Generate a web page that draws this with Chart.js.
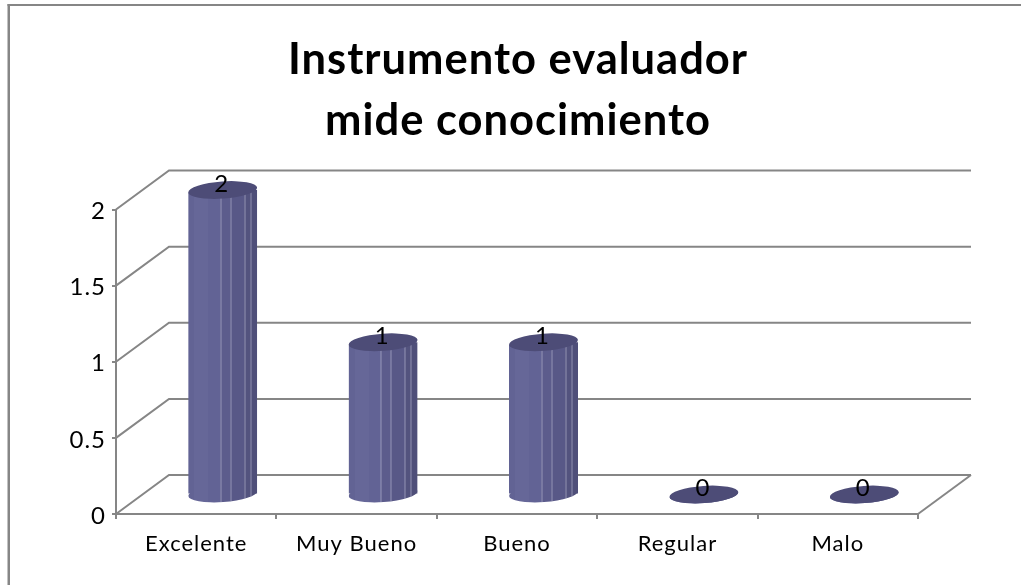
<!DOCTYPE html>
<html><head><meta charset="utf-8">
<style>html,body{margin:0;padding:0;background:#fff}#w{position:relative;width:1021px;height:585px;overflow:hidden}
canvas{display:block}</style>
<script src="https://cdn.jsdelivr.net/npm/chart.js@4/dist/chart.umd.min.js"></script>
</head><body><div id="w"><canvas id="c" width="1021" height="585"></canvas></div>
<script>
const titleLines = ['Instrumento evaluador', 'mide conocimiento'];
const categories = ['Excelente', 'Muy Bueno', 'Bueno', 'Regular', 'Malo'];
const values = [2, 1, 1, 0, 0];
const yTickLabels = ['0', '0.5', '1', '1.5', '2'];

const GRID = '#868686', DEPTH_X = 53, DEPTH_Y = -39, RX = 34.5, RY = 8.6, TILT = -4 * Math.PI / 180;
const STRIPES = [
  [0, '#626394'], [6, '#666798'], [20, '#626395'], [32, '#5c5c8c'], [42, '#585887'],
  [56, '#53537e'], [62, '#4f4f79'], [69, '#4c4c74']
];
const LINES = [32, 42, 56, 62];
const bodyFill = (c) => {
  const s = c.chart.scales.x, w = 69;
  if (!s || !c.chart.chartArea) return '#5c5c8c';
  const cx = s.getPixelForValue(c.dataIndex), l = cx - w / 2;
  const g = c.chart.ctx.createLinearGradient(l, 0, l + w, 0);
  STRIPES.forEach((st, i) => {
    g.addColorStop(st[0] / w, st[1]);
    if (i < STRIPES.length - 1) g.addColorStop(Math.max(0, STRIPES[i + 1][0] / w - 0.0001), st[1]);
  });
  return g;
};
const capPath = (ctx, x, y) => { ctx.beginPath(); ctx.ellipse(x, y, RX, RY, TILT, 0, Math.PI * 2); };

const threeD = {
  id: 'threeD',
  afterLayout(chart) { chart.titleBlock.left += 62; },
  beforeDraw(chart) {
    const { ctx, width, height } = chart;
    ctx.letterSpacing = '1px';
    ctx.save();
    ctx.fillStyle = GRID;
    ctx.fillRect(7.5, 4, width - 7.5, 2);
    ctx.fillRect(7.5, 4, 2.5, height - 4);
    ctx.restore();
  },
  beforeDatasetsDraw(chart) {
    const { ctx, scales: { x, y } } = chart;
    const l = x.left, r = x.right;
    ctx.save();
    ctx.strokeStyle = GRID; ctx.lineWidth = 2;
    y.ticks.forEach(t => {
      const p = y.getPixelForValue(t.value);
      ctx.beginPath();
      ctx.moveTo(l, p); ctx.lineTo(l + DEPTH_X, p + DEPTH_Y); ctx.lineTo(r + DEPTH_X, p + DEPTH_Y);
      ctx.stroke();
    });
    const b = y.getPixelForValue(0);
    ctx.beginPath(); ctx.moveTo(r, b); ctx.lineTo(r + DEPTH_X, b + DEPTH_Y); ctx.stroke();
    ctx.restore();
  },
  beforeDatasetDraw(chart, args) {
    const { ctx } = chart;
    const meta = args.meta;
    ctx.save();
    ctx.translate(DEPTH_X / 2, DEPTH_Y / 2);
    ctx.beginPath();
    meta.data.forEach(el => {
      const h = RX;
      ctx.moveTo(el.x - h, el.y + 2.5); ctx.lineTo(el.x + h, el.y - 2.5);
      ctx.lineTo(el.x + h, el.base + 12); ctx.lineTo(el.x - h, el.base + 12); ctx.closePath();
    });
    ctx.clip();
    meta.data.forEach((el) => {
      capPath(ctx, el.x, el.base);
      ctx.fillStyle = el.options.backgroundColor;
      ctx.fill();
    });
  },
  afterDatasetDraw(chart, args) {
    const { ctx } = chart;
    const meta = args.meta;
    meta.data.forEach(el => {
      if (el.base - el.y < 1) return;
      ctx.strokeStyle = 'rgba(190,190,215,0.6)'; ctx.lineWidth = 1;
      LINES.forEach(o => {
        const px = Math.round(el.x - RX + o) + 0.5, d = px - el.x;
        const end = el.base + d * Math.tan(TILT) + RY * Math.sqrt(Math.max(0, 1 - (d / RX) ** 2));
        ctx.beginPath(); ctx.moveTo(px, el.y - 4); ctx.lineTo(px, end); ctx.stroke();
      });
    });
    ctx.restore();
    ctx.save();
    ctx.translate(DEPTH_X / 2, DEPTH_Y / 2);
    meta.data.forEach((el, i) => {
      capPath(ctx, el.x, el.y);
      ctx.fillStyle = '#4d4c77';
      ctx.fill();
      ctx.fillStyle = '#000';
      ctx.font = '24px Lato';
      ctx.textAlign = 'center'; ctx.textBaseline = 'middle';
      ctx.fillText(String(values[i]), el.x - 1, el.y - 6);
    });
    ctx.restore();
  }
};

new Chart(document.getElementById('c'), {
  type: 'bar',
  plugins: [threeD],
  data: { labels: categories, datasets: [{ data: values, backgroundColor: bodyFill, barPercentage: 69 / 160.4, categoryPercentage: 1, borderWidth: 0 }] },
  options: {
    responsive: false, animation: false,
    layout: { padding: { left: 56, right: 103, top: 30, bottom: 0 } },
    plugins: {
      legend: { display: false }, tooltip: { enabled: false },
      title: {
        display: true, text: titleLines, color: '#000',
        font: { family: 'Lato', size: 43.5, weight: 'bold', lineHeight: 1.4 },
        padding: { top: 0, bottom: 57.7 }
      }
    },
    scales: {
      x: {
        afterFit(s) { s.height = 71; },
        grid: { drawOnChartArea: false, color: GRID, lineWidth: 2, tickLength: 5, offset: true },
        border: { color: GRID, width: 2 },
        ticks: { color: '#000', font: { family: 'Lato', size: 22 }, padding: 12, maxRotation: 0 }
      },
      y: {
        min: 0, max: 2,
        afterFit(s) { s.width = 60; },
        grid: { drawOnChartArea: false, color: GRID, lineWidth: 2, tickLength: 4 },
        border: { color: GRID, width: 2 },
        ticks: { stepSize: 0.5, color: '#000', font: { family: 'Lato', size: 24 }, padding: 6, labelOffset: 2,
          callback: (v) => yTickLabels[Math.round(v * 2)] }
      }
    }
  }
});
</script>
</body></html>
